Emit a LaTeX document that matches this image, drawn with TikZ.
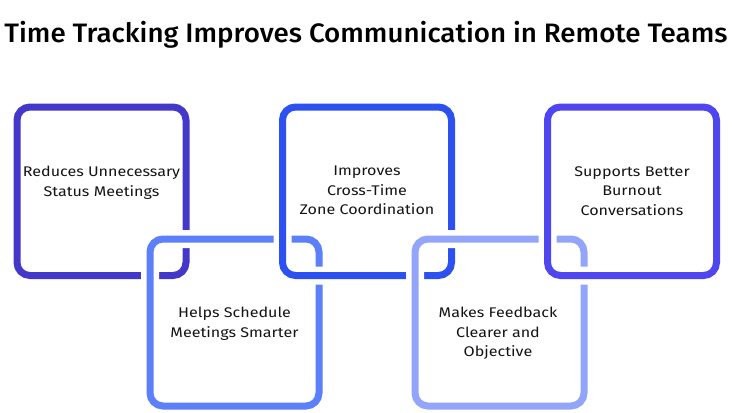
\documentclass[tikz,border=0pt]{standalone}
\usepackage{fontspec}
\setmainfont{Fira Sans}
\newfontfamily\bodyfont[FakeStretch=1.15]{Fira Sans}
\newfontfamily\titlefont[FakeStretch=1.04]{Fira Sans Medium}
\definecolor{cA}{RGB}{67,56,202}
\definecolor{cB}{RGB}{92,128,250}
\definecolor{cC}{RGB}{45,80,240}
\definecolor{cD}{RGB}{147,165,250}
\definecolor{cE}{RGB}{80,70,240}
\definecolor{txt}{RGB}{20,20,20}
\begin{document}
\begin{tikzpicture}[x=0.75pt,y=-0.75pt,
  card/.style={line width=5.25pt, rounded corners=9.75pt},
  halo/.style={draw=white, line width=13.5pt, rounded corners=9.75pt},
  lbl/.style={align=center, font=\bodyfont\fontsize{10.5}{14.6}\selectfont, anchor=north, inner sep=0pt, text=txt},
  ttl/.style={font=\titlefont\fontsize{20}{22}\selectfont, anchor=base, inner sep=0pt}]
\useasboundingbox (0,0) rectangle (732,412);
\node[ttl] (title) at (366,42) {Time Tracking Improves Communication in Remote Teams};
% box 1
\draw[card, draw=cA] (17,107) rectangle (186,275.5);
% box 2
\draw[halo] (150,239) rectangle (319,406);
\draw[card, draw=cB] (150,239) rectangle (319,406);
% box 3
\draw[halo] (282.5,107) rectangle (451.5,275.5);
\draw[card, draw=cC] (282.5,107) rectangle (451.5,275.5);
% box 4
\draw[halo] (415,239) rectangle (584,406);
\draw[card, draw=cD] (415,239) rectangle (584,406);
% box 5
\draw[halo] (547.5,107) rectangle (716.5,275.5);
\draw[card, draw=cE] (547.5,107) rectangle (716.5,275.5);
% labels
\node[lbl] (t1) at (101.5,166) {Reduces Unnecessary\\Status Meetings};
\node[lbl] (t2) at (234.5,307) {Helps Schedule\\Meetings Smarter};
\node[lbl] (t3) at (367,166) {Improves\\Cross-Time\\Zone Coordination};
\node[lbl] (t4) at (498,307) {Makes Feedback\\Clearer and\\Objective};
\node[lbl] (t5) at (632,166) {Supports Better\\Burnout\\Conversations};
\end{tikzpicture}
\end{document}
